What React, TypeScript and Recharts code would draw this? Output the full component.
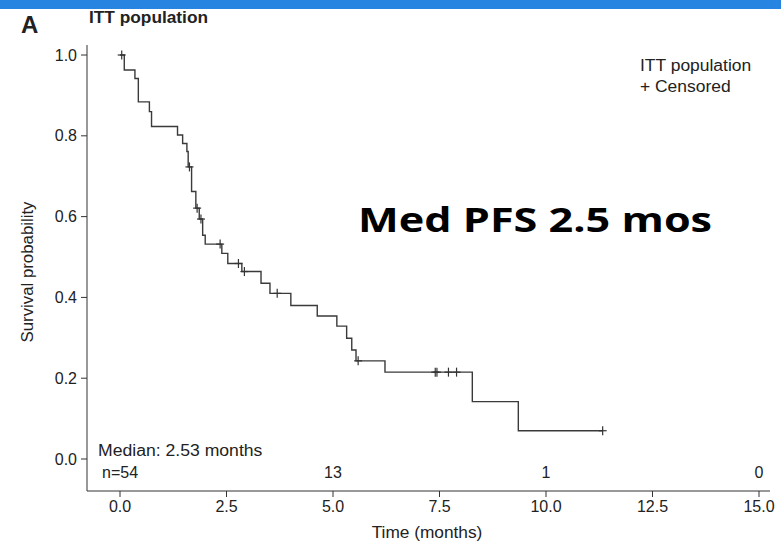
import { ComposedChart, XAxis, YAxis, Line, Scatter, ReferenceDot } from "recharts";

// Kaplan-Meier step curve (time in months, survival probability)
const eventTimes = [
  0, 0.1, 0.35, 0.43, 0.69, 0.74, 1.35, 1.47, 1.57, 1.6, 1.68, 1.78, 1.86, 1.94, 2.0,
  2.39, 2.53, 2.86, 3.31, 3.52, 4.01, 4.63, 5.09, 5.32, 5.44, 5.54, 6.22, 8.27, 9.35, 11.33,
];
const survival = [
  1.0, 0.963, 0.942, 0.884, 0.86, 0.823, 0.802, 0.781, 0.761, 0.723, 0.662, 0.621, 0.594,
  0.554, 0.532, 0.509, 0.484, 0.464, 0.435, 0.41, 0.38, 0.354, 0.329, 0.299, 0.27, 0.243,
  0.215, 0.142, 0.07, 0.07,
];

// censored observations
const censorTimes = [0.04, 1.63, 1.81, 1.9, 2.35, 2.78, 2.92, 3.69, 5.59, 7.4, 7.44, 7.71, 7.9, 11.33];
const censorSurv = [1.0, 0.723, 0.621, 0.594, 0.532, 0.484, 0.464, 0.41, 0.243, 0.215, 0.215, 0.215, 0.215, 0.07];

// numbers at risk
const riskTimes = [0, 5, 10, 15];
const riskCounts = ["n=54", "13", "1", "0"];

const xTicks = [0, 2.5, 5, 7.5, 10, 12.5, 15];
const yTicks = [0, 0.2, 0.4, 0.6, 0.8, 1.0];

const kmData = eventTimes.map((t, i) => ({ t, s: survival[i] }));
const censorData = censorTimes.map((t, i) => ({ t, s: censorSurv[i] }));

const INK = "#333";
const FONT = "'Liberation Sans', Arial, Helvetica, sans-serif";

function Plus(props: any) {
  const { cx, cy } = props;
  return (
    <g stroke={INK} strokeWidth={1.2}>
      <line x1={cx - 4} x2={cx + 4} y1={cy} y2={cy} />
      <line x1={cx} x2={cx} y1={cy - 4.5} y2={cy + 4.5} />
    </g>
  );
}

// the source figure is a bit stretched horizontally
const wide = (k: number) => ({ transform: `scaleX(${k})`, transformOrigin: "left center", whiteSpace: "nowrap" as const });

export default function App() {
  return (
    <div
      style={{
        position: "absolute",
        left: 0,
        top: 0,
        width: 781,
        height: 546,
        background: "#fff",
        overflow: "hidden",
        fontFamily: FONT,
        color: "#222",
      }}
    >
      <div style={{ position: "absolute", left: 0, top: 0, width: 781, height: 9, background: "#2784E0" }} />
      <div style={{ position: "absolute", left: 21, top: 11, fontSize: 24, fontWeight: 700 }}>A</div>
      <div style={{ position: "absolute", left: 89, top: 9, fontSize: 16, fontWeight: 700, ...wide(1.08) }}>
        ITT population
      </div>

      <ComposedChart
        width={781}
        height={546}
        margin={{ top: 45, right: 11, bottom: 0, left: 0 }}
        style={{ position: "absolute", left: 0, top: 0 }}
      >
        <XAxis
          type="number"
          dataKey="t"
          domain={[-0.775, 15.258]}
          allowDataOverflow
          ticks={xTicks}
          tickFormatter={(v: number) => v.toFixed(1)}
          height={55}
          tickSize={6}
          tickMargin={4}
          stroke={INK}
          tick={{ fill: "#222", fontSize: 16, fontFamily: FONT }}
        />
        <YAxis
          type="number"
          dataKey="s"
          domain={[-0.0792, 1.0248]}
          allowDataOverflow
          ticks={yTicks}
          tickFormatter={(v: number) => v.toFixed(1)}
          width={87}
          tickSize={6}
          tickMargin={4}
          stroke={INK}
          tick={{ fill: "#222", fontSize: 16, fontFamily: FONT }}
        />
        <Line
          data={kmData}
          dataKey="s"
          type="stepAfter"
          stroke="#3a3a3a"
          strokeWidth={1.4}
          dot={false}
          isAnimationActive={false}
        />
        <Scatter data={censorData} dataKey="s" shape={<Plus />} isAnimationActive={false} />
        {riskTimes.map((t, i) => (
          <ReferenceDot
            key={t}
            x={t}
            y={-0.032}
            r={0}
            ifOverflow="visible"
            label={{ value: riskCounts[i], position: "center", fill: "#222", fontSize: 16, fontFamily: FONT }}
          />
        ))}
      </ComposedChart>

      <div style={{ position: "absolute", left: 98, top: 442, fontSize: 16, ...wide(1.1) }}>Median: 2.53 months</div>
      <div style={{ position: "absolute", left: 640, top: 55, fontSize: 16, lineHeight: "21px", ...wide(1.09) }}>
        ITT population
        <br />+ Censored
      </div>
      <div
        style={{
          position: "absolute",
          left: 28,
          top: 272,
          fontSize: 16,
          whiteSpace: "nowrap",
          transform: "translate(-50%, -50%) rotate(-90deg) scaleX(1.05)",
        }}
      >
        Survival probability
      </div>
      <div
        style={{
          position: "absolute",
          left: 427,
          top: 524,
          fontSize: 16,
          transform: "translateX(-50%) scaleX(1.08)",
          whiteSpace: "nowrap",
        }}
      >
        Time (months)
      </div>
      <div
        style={{
          position: "absolute",
          left: 358,
          top: 196,
          fontSize: 34,
          fontWeight: 700,
          color: "#000",
          fontFamily: "'Open Sans', 'Noto Sans', sans-serif",
          ...wide(1.27),
        }}
      >
        Med PFS 2.5 mos
      </div>
    </div>
  );
}
